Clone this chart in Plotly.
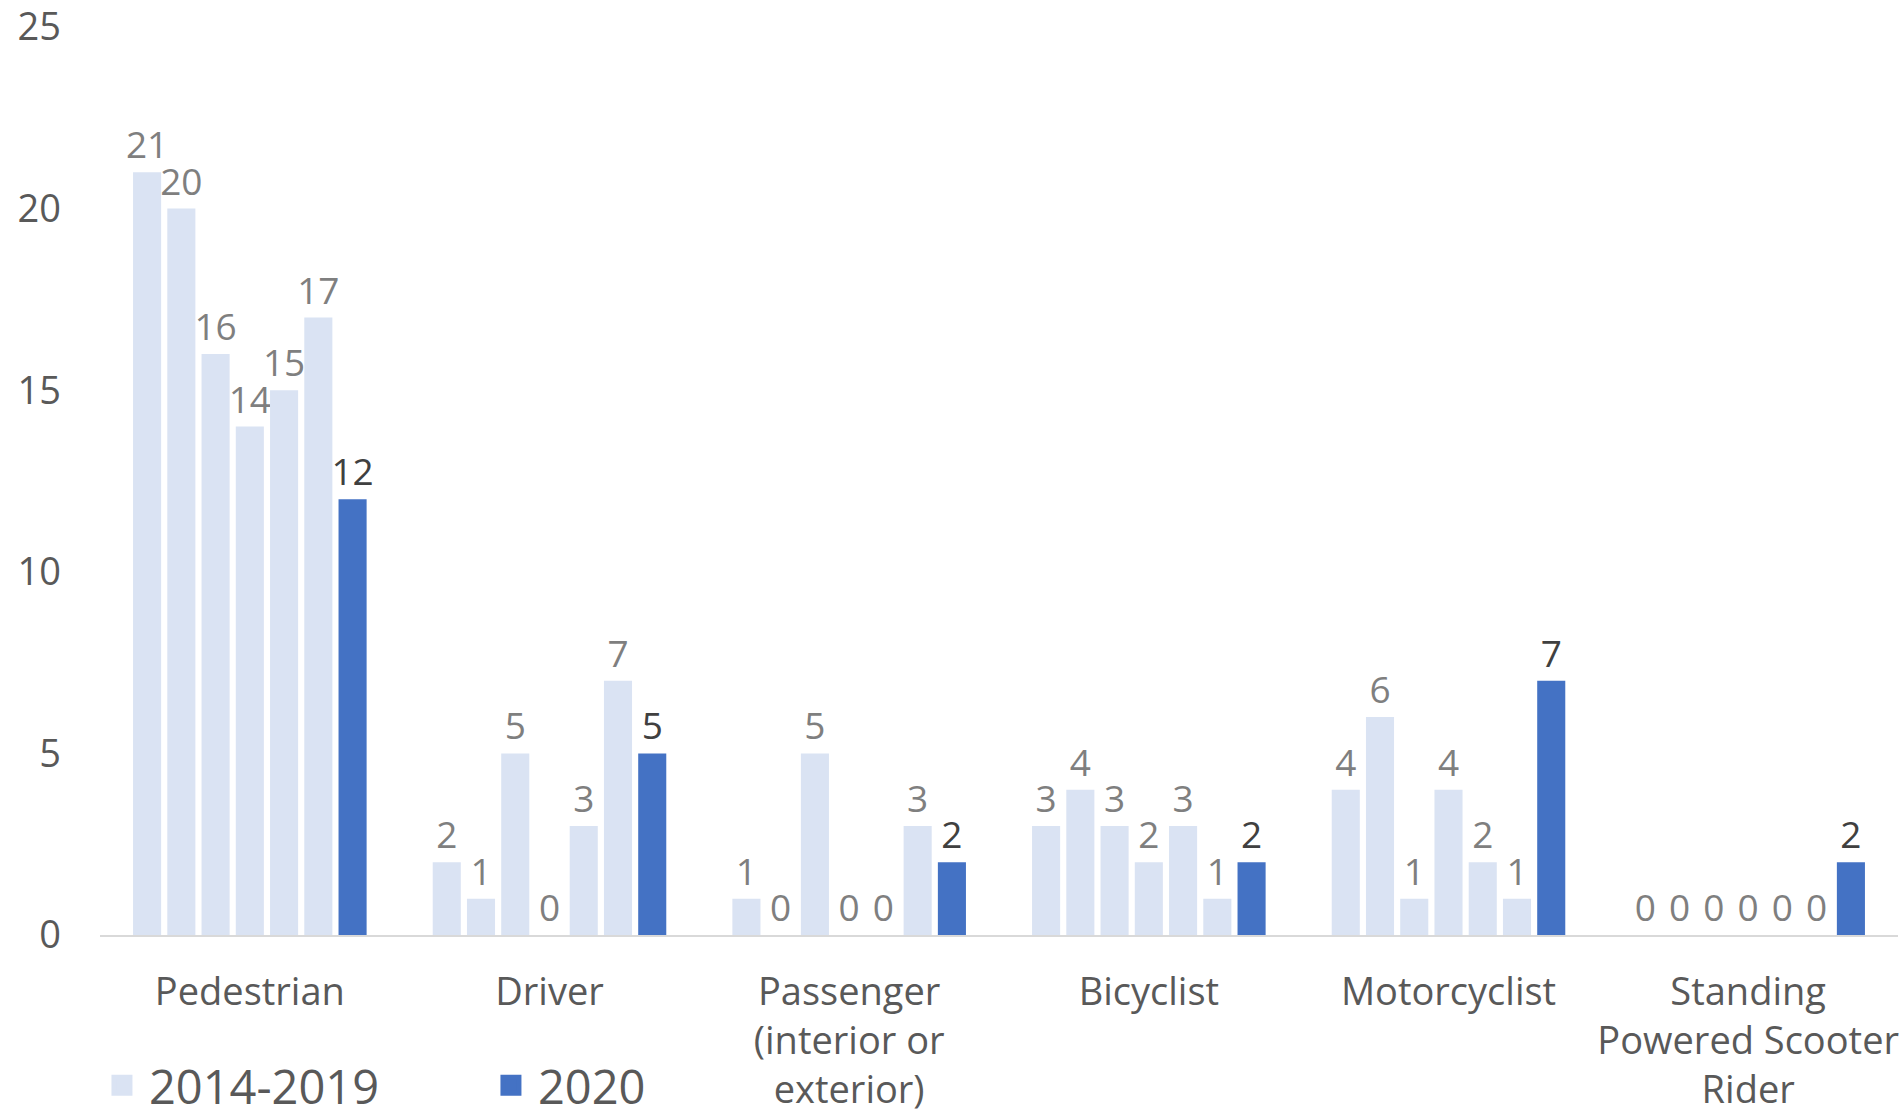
import plotly.graph_objects as go

categories = [
    "Pedestrian",
    "Driver",
    "Passenger<br>(interior or<br>exterior)",
    "Bicyclist",
    "Motorcyclist",
    "Standing<br>Powered Scooter<br>Rider",
]

prior_years = ["2014", "2015", "2016", "2017", "2018", "2019"]
values_2014 = [21, 2, 1, 3, 4, 0]
values_2015 = [20, 1, 0, 4, 6, 0]
values_2016 = [16, 5, 5, 3, 1, 0]
values_2017 = [14, 0, 0, 2, 4, 0]
values_2018 = [15, 3, 0, 3, 2, 0]
values_2019 = [17, 7, 3, 1, 1, 0]
values_2020 = [12, 5, 2, 2, 7, 2]

prior_series = [values_2014, values_2015, values_2016, values_2017, values_2018, values_2019]

y_ticks = [0, 5, 10, 15, 20, 25]

LIGHT = "#DAE3F3"
DARK = "#4472C4"
FONT = "Open Sans"

fig = go.Figure()
for yr, vals in zip(prior_years, prior_series):
    fig.add_trace(go.Bar(
        x=categories, y=vals, name=yr,
        legendgroup="prior", showlegend=False,
        marker=dict(color=LIGHT, line=dict(width=0)),
        text=[str(v) for v in vals], textposition="outside",
        constraintext="none",
        textfont=dict(family=FONT, size=37, color="#7F7F7F"),
        cliponaxis=False,
        hovertemplate=yr + ": %{y}<extra></extra>",
    ))

fig.add_trace(go.Bar(
    x=categories, y=values_2020, name="2020",
    legendgroup="cur", showlegend=False,
    marker=dict(color=DARK, line=dict(width=0)),
    text=[str(v) for v in values_2020], textposition="outside",
    constraintext="none",
    textfont=dict(family=FONT, size=37, color="#404040"),
    cliponaxis=False,
))

# legend entries (square swatches)
for nm, col, grp in [("2014-2019", LIGHT, "prior"), ("2020", DARK, "cur")]:
    fig.add_trace(go.Scatter(
        x=[None], y=[None], mode="markers", name=nm, legendgroup=grp,
        marker=dict(symbol="square", size=16, color=col, line=dict(color=col, width=5)),
        showlegend=True, hoverinfo="skip",
    ))

fig.update_layout(
    width=1899, height=1117,
    barmode="group", bargap=0.2, bargroupgap=0.18,
    paper_bgcolor="white", plot_bgcolor="white",
    margin=dict(l=100, r=1, t=27, b=182, autoexpand=False),
    font=dict(family=FONT, color="#595959", size=36),
    showlegend=True,
    legend=dict(
        orientation="h", xref="container", yref="container",
        x=0.05, xanchor="left", y=0.028, yanchor="middle",
        bgcolor="rgba(0,0,0,0)",
        font=dict(family=FONT, size=47, color="#595959"),
        itemsizing="trace", itemwidth=44, entrywidth=330, entrywidthmode="pixels",
    ),
    xaxis=dict(
        showline=True, linecolor="#D9D9D9", linewidth=2,
        ticks="", tickfont=dict(family=FONT, size=38, color="#595959"),
        showgrid=False, ticklabelstandoff=22,
    ),
    yaxis=dict(
        range=[0, 25], tickmode="array", tickvals=y_ticks,
        showgrid=False, zeroline=False, showline=False,
        tickfont=dict(family=FONT, size=38, color="#595959"),
        ticklabelstandoff=38, ticklabeloverflow="allow",
    ),
)

fig.write_html("out.html")
